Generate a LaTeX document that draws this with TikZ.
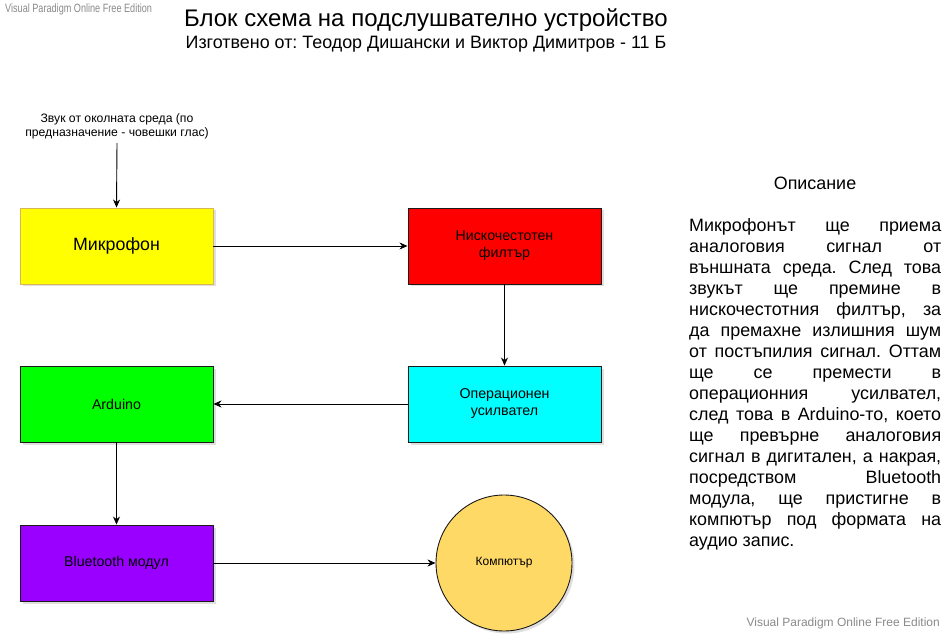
\documentclass[tikz,border=0pt]{standalone}
\usepackage{fontspec}
\usepackage{graphicx}
\setmainfont{Liberation Sans}
\frenchspacing
\usetikzlibrary{arrows.meta,shapes.geometric,shadows}
\definecolor{micfill}{HTML}{FFFF00}
\definecolor{micline}{HTML}{D6B656}
\definecolor{filtfill}{HTML}{FF0000}
\definecolor{opfill}{HTML}{00FFFF}
\definecolor{ardfill}{HTML}{00FF00}
\definecolor{btfill}{HTML}{9900FF}
\definecolor{pcfill}{HTML}{FFD966}
\definecolor{wmgray}{HTML}{8A8A8A}
\definecolor{linegray}{HTML}{1A1A1A}
\tikzset{
  blockbox/.style={draw=linegray, line width=0.9pt, minimum width=193pt, minimum height=76pt,
    inner sep=0pt, align=center, font=\fontsize{14.2}{17}\selectfont,
    drop shadow={opacity=0.25, shadow xshift=2.5pt, shadow yshift=-2.5pt}},
  pcnode/.style={ellipse, draw=linegray, line width=0.9pt, fill=pcfill, minimum width=136pt,
    minimum height=136pt, inner sep=0pt, font=\fontsize{12}{14}\selectfont,
    drop shadow={opacity=0.25, shadow xshift=2.5pt, shadow yshift=-2.5pt}},
  conn/.style={draw=black, line width=0.9pt, -{Stealth[length=8pt,width=7pt,inset=2.5pt]}},
  wmark/.style={text=wmgray, inner sep=0pt, font=\fontsize{12}{14}\selectfont},
}
\begin{document}
\begin{tikzpicture}[x=1pt,y=-1pt]
\useasboundingbox (0,0) rectangle (951,639);
\fill[white] (0,0) rectangle (951,639);

% watermarks
\node[wmark, anchor=west] (wm1) at (5,9) {\scalebox{0.76}[1]{Visual Paradigm Online Free Edition}};
\node[wmark, anchor=east] (wm2) at (940,623) {Visual Paradigm Online Free Edition};

% title
\node[inner sep=0pt, font=\fontsize{24}{28}\selectfont] (title) at (426,20) {Блок схема на подслушвателно устройство};
\node[inner sep=0pt, font=\fontsize{17.9}{21}\selectfont] (subtitle) at (426,44) {Изготвено от: Теодор Дишански и Виктор Димитров - 11 Б};

% input label
\node[inner sep=0pt, align=center, font=\fontsize{12.2}{14}\selectfont] (src) at (117,126)
  {Звук от околната среда (по\\предназначение - човешки глас)};
\coordinate (srcend) at (117,143);

% blocks
\node[blockbox, draw=micline, fill=micfill, font=\fontsize{17.8}{21}\selectfont] (mic) at (116.5,246) {Микрофон};
\node[blockbox, fill=filtfill] (filt) at (504.5,246) {Нискочестотен\\филтър};
\node[blockbox, fill=opfill] (op) at (504.5,404) {Операционен\\усилвател};
\node[blockbox, fill=ardfill] (ard) at (116.5,404) {Arduino};
\node[blockbox, fill=btfill] (bt) at (116.5,563) {Bluetooth модул};
\node[pcnode] (pc) at (504,563) {Компютър};

% connectors
\draw[conn] (srcend) -- (mic.north);
\draw[conn] (mic.east) -- (filt.west);
\draw[conn] (filt.south) -- (op.north);
\draw[conn] (op.west) -- (ard.east);
\draw[conn] (ard.south) -- (bt.north);
\draw[conn] (bt.east) -- (pc.west);

% description
\node[inner sep=0pt, font=\fontsize{17.9}{21}\selectfont] (desch) at (815,183) {Описание};
\node[inner sep=0pt, anchor=north west, text width=252pt, align=justify, font=\fontsize{17.9}{21}\selectfont] (desc) at (689,218)
{\hyphenpenalty=10000\exhyphenpenalty=10000\emergencystretch=50pt
Микрофонът ще приема\linebreak
аналоговия сигнал от\linebreak
външната среда. След това\linebreak
звукът ще премине в\linebreak
нискочестотния филтър, за\linebreak
да премахне излишния шум\linebreak
от постъпилия сигнал. Оттам\linebreak
ще се премести в\linebreak
операционния усилвател,\linebreak
след това в Arduino-то, което\linebreak
ще превърне аналоговия\linebreak
сигнал в дигитален, а накрая,\linebreak
посредством Bluetooth\linebreak
модула, ще пристигне в\linebreak
компютър под формата на\linebreak
аудио запис.};
\end{tikzpicture}
\end{document}
